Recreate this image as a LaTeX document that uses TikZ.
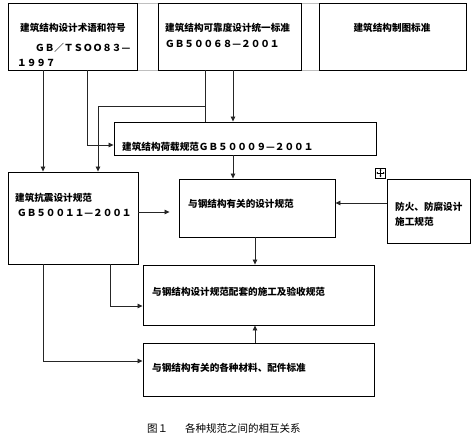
\documentclass[tikz,border=0pt]{standalone}
\usepackage{fontspec}
\newfontfamily\cjk{Noto Sans CJK SC}
\usetikzlibrary{arrows.meta}
\tikzset{
  box/.style={draw=black, line width=0.9pt, inner sep=0pt, fill=white},
  txt/.style={anchor=west, inner sep=0pt, font=\cjk\bfseries\fontsize{9.6pt}{11pt}\selectfont},
  captxt/.style={anchor=west, inner sep=0pt, font=\cjk\fontsize{10.5pt}{12pt}\selectfont},
  conn/.style={draw=black!85, line width=0.8pt},
  arr/.style={conn, -{Triangle[length=5pt,width=4.5pt]}},
  gridln/.style={draw=black!25, line width=0.8pt}
}
\begin{document}
\begin{tikzpicture}[x=1pt,y=-1pt]
\useasboundingbox[fill=white] (0,0) rectangle (472,434);

% table gridlines between the top boxes
\draw[gridln] (137,3) -- (158,3) (137,70) -- (158,70) (301,3) -- (319,3) (301,70) -- (319,70);

% boxes
\node[box, minimum width=129pt, minimum height=67pt] (A) at (72.5,36.5) {};
\node[box, minimum width=143pt, minimum height=67pt] (B) at (229.5,36.5) {};
\node[box, minimum width=147pt, minimum height=67pt] (C) at (392.5,36.5) {};
\node[box, minimum width=262pt, minimum height=33pt] (E) at (245,138.5) {};
\node[box, minimum width=130pt, minimum height=92pt] (D) at (73,218) {};
\node[box, minimum width=156pt, minimum height=58pt] (F) at (257,208) {};
\node[box, minimum width=83pt, minimum height=64pt] (G) at (428.5,211) {};
\node[box, minimum width=231pt, minimum height=60pt] (H) at (258.5,295) {};
\node[box, minimum width=231pt, minimum height=53pt] (I) at (258.5,369.5) {};

% move handle icon
\node[draw=black, line width=0.6pt, minimum width=10pt, minimum height=10pt, inner sep=0pt] (mv) at (380.5,173) {};
\draw[line width=0.4pt, {Triangle[length=1.5pt,width=2pt]}-{Triangle[length=1.5pt,width=2pt]}] ([xshift=1.2pt]mv.west) -- ([xshift=-1.2pt]mv.east);
\draw[line width=0.4pt, {Triangle[length=1.5pt,width=2pt]}-{Triangle[length=1.5pt,width=2pt]}] ([yshift=-1.2pt]mv.north) -- ([yshift=1.2pt]mv.south);

% texts
\node[txt] (A1) at (20,28) {建筑结构设计术语和符号};
\node[txt] (A2) at (35,48) {ＧＢ／ＴＳＯＯ８３—};
\node[txt] (A3) at (17,63) {１９９７};
\node[txt] (B1) at (165,28) {建筑结构可靠度设计统一标准};
\node[txt] (B2) at (165,44) {ＧＢ５００６８—２００１};
\node[txt, anchor=center] (C1) at (392,28) {建筑结构制图标准};
\node[txt] (E1) at (122,147) {建筑结构荷载规范ＧＢ５０００９—２００１};
\node[txt] (D1) at (15,198) {建筑抗震设计规范};
\node[txt] (D2) at (17,213) {ＧＢ５００１１—２００１};
\node[txt] (F1) at (188,204) {与钢结构有关的设计规范};
\node[txt] (G1) at (395,206.5) {防火、防腐设计};
\node[txt] (G2) at (395,222) {施工规范};
\node[txt] (H1) at (152,292) {与钢结构设计规范配套的施工及验收规范};
\node[txt] (I1) at (152,368) {与钢结构有关的各种材料、配件标准};
\node[captxt] (capt) at (147,428) {图１\hspace{1.6em}各种规范之间的相互关系};

% helper coordinates
\coordinate (a1) at (43,0);
\coordinate (a2) at (87,145);
\coordinate (b1) at (205,106);
\coordinate (b1l) at (98,106);
\coordinate (b2) at (233,0);
\coordinate (dF) at (0,212);
\coordinate (gF) at (0,203);
\coordinate (fH) at (255,0);
\coordinate (d1) at (110,306);
\coordinate (d2) at (43,361);

% connectors
\draw[arr] (A.south -| a1) -- (D.north -| a1);
\draw[arr] (A.south -| a2) -- (a2) -- (E.west |- a2);
\draw[conn] (B.south -| b1) -- (E.north -| b1);
\draw[arr] (b1) -- (b1l) -- (D.north -| b1l);
\draw[arr] (B.south -| b2) -- (E.north -| b2);
\draw[arr] (E.south -| b2) -- (F.north -| b2);
\draw[arr, shorten >=9pt] (D.east |- dF) -- (F.west |- dF);
\draw[arr] (G.west |- gF) -- (F.east |- gF);
\draw[arr] (F.south -| fH) -- (H.north -| fH);
\draw[arr] (D.south -| d1) -- (d1) -- (H.west |- d1);
\draw[arr] (D.south -| d2) -- (d2) -- (I.west |- d2);
\draw[arr] (I.north -| fH) -- (H.south -| fH);
\end{tikzpicture}
\end{document}
